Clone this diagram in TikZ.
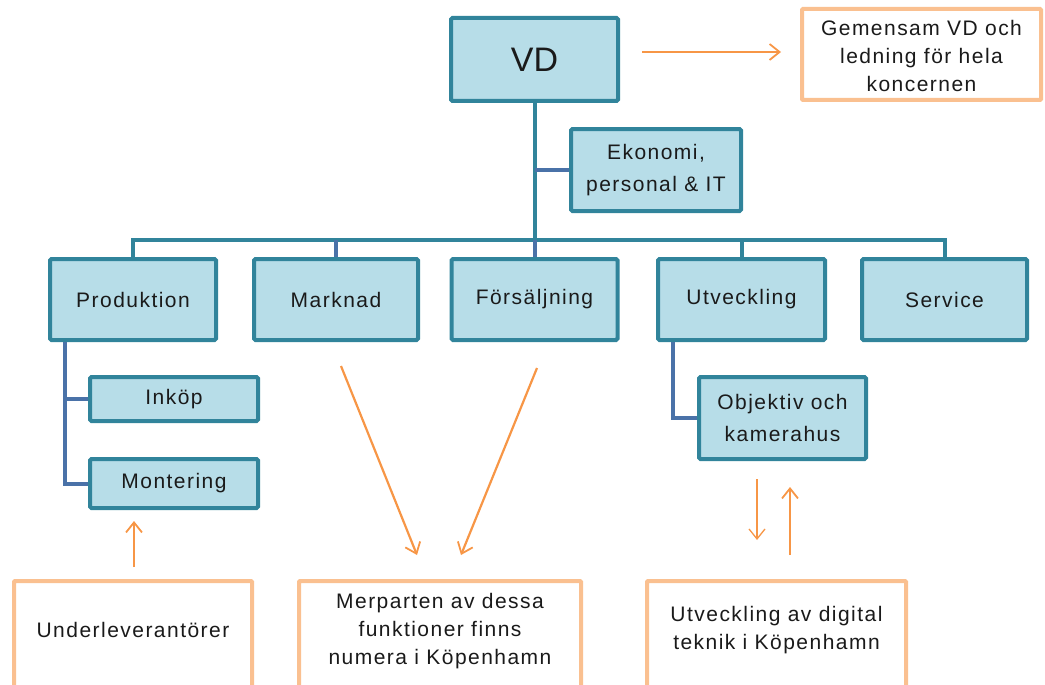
\documentclass[tikz,border=0pt]{standalone}
\usepackage{fontspec}
\setmainfont{Liberation Sans}[LetterSpace=7]
\newfontfamily\vdfont{Liberation Sans}
\usetikzlibrary{arrows.meta,calc}
\definecolor{bfill}{HTML}{B7DDE8}
\definecolor{bdraw}{HTML}{31849B}
\definecolor{subline}{HTML}{4A72A8}
\definecolor{oframe}{HTML}{FAC090}
\definecolor{oarrow}{HTML}{F79646}
\definecolor{txt}{HTML}{1A1A1A}
\begin{document}
\begin{tikzpicture}[x=1pt,y=-1pt,
  bbox/.style={draw=bdraw,fill=bfill,line width=4pt,rounded corners=1.5pt,inner sep=0pt,
    minimum width=166pt,minimum height=81pt,align=center,text=txt,
    font=\fontsize{21}{32}\selectfont},
  obox/.style={draw=oframe,line width=4pt,rounded corners=1pt,inner sep=0pt,fill=white},
  otext/.style={align=center,text=txt,font=\fontsize{21}{28}\selectfont},
  trunk/.style={draw=bdraw,line width=4pt},
  sub/.style={draw=subline,line width=4pt},
  oarr/.style={draw=oarrow,line width=2.2pt,-{Straight Barb[length=10pt,width=16pt,line width=1.8pt]}},
  oarrthin/.style={draw=oarrow,line width=1.3pt,-{Straight Barb[length=10pt,width=16pt,line width=1.3pt]}}]
\useasboundingbox (0,0) rectangle (1045,685);
\clip (0,0) rectangle (1045,685);
% coordinates
\coordinate (busy) at (0,240);
\coordinate (ps) at (65,0);
\coordinate (us) at (673,0);
% blue boxes
\node[bbox,minimum width=167pt,minimum height=83pt,font=\vdfont\fontsize{34}{40}\selectfont] (vd) at (534.5,59.5) {VD};
\node[bbox,minimum width=170pt,minimum height=82pt] (ek) at (656,170) {Ekonomi,\\personal \& IT};
\node[bbox] (prod) at (133,299.5) {Produktion};
\node[bbox,minimum width=164pt] (mark) at (336,299.5) {Marknad};
\node[bbox] (fors) at (534.5,299.5) {Försäljning};
\node[bbox,minimum width=167pt] (utv) at (741.5,299.5) {Utveckling};
\node[bbox,minimum width=165pt] (serv) at (944.5,299.5) {Service};
\node[bbox,minimum width=168pt,minimum height=44pt] (ink) at (174,399) {Inköp};
\node[bbox,minimum width=168pt,minimum height=49pt] (mont) at (174,483.5) {Montering};
\node[bbox,minimum width=167pt,minimum height=82pt] (obj) at (782.5,418) {Objektiv och\\kamerahus};
% connectors
\draw[trunk] (vd.south) -- (vd.south |- busy);
\draw[trunk] (prod.north) -- (prod.north |- busy) -- (serv.north |- busy) -- (serv.north);
\draw[sub] (mark.north |- busy) -- (mark.north);
\draw[sub] (vd.south |- busy) -- (fors.north);
\draw[trunk] (utv.north |- busy) -- (utv.north);
\draw[sub] (ek.west) -- (ek.west -| vd.south);
\draw[sub] (prod.south -| ps) |- (mont.west);
\draw[sub] (ink.west) -- (ink.west -| ps);
\draw[sub] (utv.south -| us) |- (obj.west);
% orange boxes
\node[obox,minimum width=239pt,minimum height=91pt] (gem) at (921.5,54.5) {};
\node[otext] (gemt) at (921.5,56) {Gemensam VD och\\ledning för hela\\koncernen};
\node[obox,minimum width=238pt,minimum height=140pt,anchor=north] (ul) at (133,579) {};
\node[otext] (ult) at (133,630) {Underleverantörer};
\node[obox,minimum width=282pt,minimum height=140pt,anchor=north] (mp) at (440,579) {};
\node[otext] (mpt) at (440,631) {Merparten av dessa\\funktioner finns\\numera i Köpenhamn};
\node[obox,minimum width=259pt,minimum height=140pt,anchor=north] (dig) at (776.5,579) {};
\node[otext] (digt) at (776.5,630) {Utveckling av digital\\teknik i Köpenhamn};
% orange arrows
\coordinate (a1s) at (642,52);
\coordinate (a1e) at (781,52);
\draw[oarr] (a1s) -- (a1e);
\coordinate (a2s) at (134,567);
\coordinate (a2e) at (134,521);
\draw[oarr] (a2s) -- (a2e);
\coordinate (a3s) at (341,366);
\coordinate (a3e) at (417,555);
\draw[oarr] (a3s) -- (a3e);
\coordinate (a4s) at (537,368);
\coordinate (a4e) at (461,555);
\draw[oarr] (a4s) -- (a4e);
\coordinate (a5s) at (757,479);
\coordinate (a5e) at (757,540);
\draw[oarrthin] (a5s) -- (a5e);
\coordinate (a6s) at (790,555);
\coordinate (a6e) at (790,487);
\draw[oarr] (a6s) -- (a6e);
\end{tikzpicture}
\end{document}
